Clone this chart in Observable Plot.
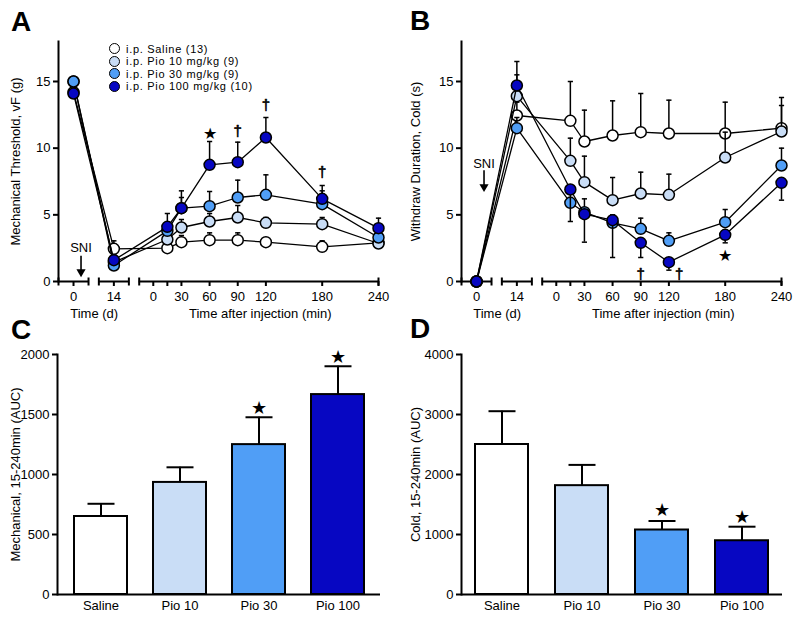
<!DOCTYPE html>
<html><head><meta charset="utf-8">
<script src="https://cdn.jsdelivr.net/npm/d3@7"></script>
<script src="https://cdn.jsdelivr.net/npm/@observablehq/plot@0.6"></script>
<style>
body{margin:0;background:#fff;font-family:"Liberation Sans",Arial,sans-serif;color:#000;}
#wrap{position:relative;width:800px;height:618px;overflow:hidden;background:#fff;}
.panel{position:absolute;}
.letter{position:absolute;font-weight:bold;font-size:28px;line-height:28px;}
.legend{position:absolute;left:109px;top:42.5px;font-size:11px;letter-spacing:0.7px;}
.legend .row{height:12.5px;line-height:12.5px;display:flex;align-items:center;white-space:nowrap;}
.legend .sw{display:inline-block;box-sizing:border-box;width:11px;height:11px;border:1.6px solid #000;border-radius:50%;margin-right:6px;}
</style></head>
<body>
<div id="wrap">
  <div class="panel" id="pA" style="left:0;top:0"></div>
  <div class="panel" id="pB" style="left:400px;top:0"></div>
  <div class="panel" id="pC" style="left:0;top:310px"></div>
  <div class="panel" id="pD" style="left:400px;top:310px"></div>
  <div class="letter" style="left:11px;top:8px">A</div>
  <div class="letter" style="left:410px;top:7px">B</div>
  <div class="letter" style="left:11px;top:316px">C</div>
  <div class="letter" style="left:410px;top:315px">D</div>
  <div class="legend" id="legend"></div>
</div>
<script>
// ---------- data ----------
const seriesNames = ["i.p. Saline (13)", "i.p. Pio 10 mg/kg (9)", "i.p. Pio 30 mg/kg (9)", "i.p. Pio 100 mg/kg (10)"];
const groups = ["Saline", "Pio 10", "Pio 30", "Pio 100"];
const colors = ["#ffffff", "#c9ddf6", "#509ef6", "#0707c2"];

// time points: days 0 and 14, then minutes after injection
const timeUnits  = ["d", "d", "m", "m", "m", "m", "m", "m", "m"];
const timeValues = [0, 14, 15, 30, 60, 90, 120, 180, 240];

// x tick labels of the broken axis
const tickUnits  = ["d", "d", "m", "m", "m", "m", "m", "m", "m", "m"];
const tickValues = [0, 14, 0, 15, 30, 60, 90, 120, 180, 240];
const tickLabels = ["0", "14", "0", "", "30", "60", "90", "120", "180", "240"];

// Panel A: mechanical threshold (g), mean and SEM
const mechSaline = [14.2, 2.45, 2.5, 2.95, 3.1, 3.1, 2.95, 2.6, 2.9];
const mechPio10  = [15.0, 1.45, 3.15, 4.05, 4.5, 4.8, 4.4, 4.3, 2.85];
const mechPio30  = [15.0, 1.2, 3.8, 5.5, 5.65, 6.3, 6.5, 5.8, 3.3];
const mechPio100 = [14.1, 1.6, 4.1, 5.5, 8.75, 8.95, 10.8, 6.2, 4.0];
const mechSemSaline = [0.3, 0.6, 0.2, 0.5, 0.55, 0.55, 0.3, 0.45, 0.2];
const mechSemPio10  = [0.2, 0.3, 0.5, 0.6, 0.6, 0.9, 0.4, 0.5, 0.3];
const mechSemPio30  = [0.2, 0.3, 0.6, 0.8, 1.1, 1.3, 1.5, 1.0, 0.4];
const mechSemPio100 = [0.3, 0.4, 1.0, 1.3, 1.75, 1.5, 1.5, 1.0, 0.75];

// Panel B: cold withdraw duration (s); SEM sign = direction the bar is drawn
const coldSaline = [0, 12.45, 12.05, 10.5, 10.95, 11.2, 11.1, 11.1, 11.5];
const coldPio10  = [0, 13.9, 9.05, 7.45, 6.1, 6.6, 6.5, 9.3, 11.25];
const coldPio30  = [0, 11.5, 5.9, 5.2, 4.4, 3.95, 3.05, 4.45, 8.7];
const coldPio100 = [0, 14.7, 6.9, 5.05, 4.6, 2.9, 1.45, 3.5, 7.4];
const coldSemSaline = [0, 1.0, 2.95, 2.35, 2.6, 2.9, 2.5, 2.35, 2.3];
const coldSemPio10  = [0, 1.6, 1.7, 1.95, 1.7, 1.6, 1.55, 1.9, 1.95];
const coldSemPio30  = [0, 0.8, 0.4, 1.0, 0.6, 0.8, 0.6, 0.95, 1.3];
const coldSemPio100 = [0, 1.8, -2.4, -2.1, -2.8, -1.1, -0.6, -0.6, -1.3];

// significance markers
const sigMech = [
  {unit: "m", t: 60, y: 11.1, mark: "★"},
  {unit: "m", t: 90, y: 11.3, mark: "†"},
  {unit: "m", t: 120, y: 13.2, mark: "†"},
  {unit: "m", t: 180, y: 8.2, mark: "†"}
];
const sigCold = [
  {unit: "m", t: 90, y: 0.55, mark: "†"},
  {unit: "m", t: 131, y: 0.55, mark: "†"},
  {unit: "m", t: 180, y: 1.95, mark: "★"}
];

// Panels C, D: AUC 15-240 min
const aucMech    = [650, 934, 1249, 1666];
const aucMechSem = [106, 126, 228, 236];
const aucCold    = [2500, 1814, 1075, 896];
const aucColdSem = [555, 346, 150, 234];
const sigAucMech = [{group: "Pio 30", y: 1552, mark: "★"}, {group: "Pio 100", y: 1977, mark: "★"}];
const sigAucCold = [{group: "Pio 30", y: 1397, mark: "★"}, {group: "Pio 100", y: 1285, mark: "★"}];

// ---------- layout of the broken time axis (virtual minute units) ----------
const axisLayout = {
  domain: [-101, 240],
  segments: [[-101, -69], [-58, -26], [-15, 240]],
  dayAt: {0: -85, 14: -42},
  sniAt: -77,
  titles: [{u: -63, text: "Time (d)"}, {u: 114, text: "Time after injection (min)"}]
};
const pos = (unit, t) => unit === "d" ? axisLayout.dayAt[t] : t;
const tickU = tickValues.map((t, i) => pos(tickUnits[i], t));
const labelByU = new Map(tickU.map((u, i) => [u, tickLabels[i]]));

// custom symbols
const hLine = {draw(ctx, size) { const r = Math.sqrt(size / Math.PI); ctx.moveTo(-r, 0); ctx.lineTo(r, 0); }};
const vLine = {draw(ctx, size) { const r = Math.sqrt(size / Math.PI); ctx.moveTo(0, -r); ctx.lineTo(0, r); }};

const FS = 13;
const baseStyle = {fontFamily: "Liberation Sans, Arial, sans-serif", fontSize: FS + "px", background: "transparent", color: "#000", overflow: "visible"};

function linePanel({vals, errs, yLabel, marginLeft, marginRight, labelDx, sig, sni}) {
  const rows = [];
  seriesNames.forEach((s, si) => timeValues.forEach((t, ti) => rows.push({
    series: s, si, u: pos(timeUnits[ti], t), y: vals[si][ti], e: errs[si][ti]
  })));
  const stars = sig.filter(d => d.mark === "★");
  const daggers = sig.filter(d => d.mark !== "★");
  const marks = [
    Plot.ruleY(axisLayout.segments, {x1: d => d[0], x2: d => d[1], y: 0, strokeWidth: 2}),
    Plot.dot(axisLayout.segments.flat(), {x: d => d, y: 0, symbol: vLine, r: 4, stroke: "black", fill: "none", strokeWidth: 2}),
    Plot.frame({anchor: "left", strokeWidth: 2}),
    Plot.axisY({ticks: [0, 5, 10, 15], tickFormat: d3.format("d"), tickSize: 5, tickPadding: 3, strokeWidth: 2, fontSize: FS, label: null}),
    Plot.axisX({ticks: tickU, tickFormat: u => labelByU.get(u) ?? "", tickSize: 5, tickPadding: 5, strokeWidth: 2, fontSize: FS, label: null}),
    Plot.text([yLabel], {frameAnchor: "left", dx: labelDx, rotate: -90, textAnchor: "middle", text: d => d, fontSize: FS}),
    Plot.text(axisLayout.titles, {x: "u", frameAnchor: "bottom", dy: 36, text: "text", fontSize: FS})
  ];
  seriesNames.forEach((s, si) => {
    const r = rows.filter(d => d.si === si);
    marks.push(
      Plot.ruleX(r, {x: "u", y1: "y", y2: d => d.y + d.e, strokeWidth: 1.5}),
      Plot.dot(r, {x: "u", y: d => d.y + d.e, symbol: hLine, r: 2.6, stroke: "black", fill: "none", strokeWidth: 1.5}),
      Plot.line(r, {x: "u", y: "y", stroke: "black", strokeWidth: 1.3}),
      Plot.dot(r, {x: "u", y: "y", r: 5.5, fill: "series", stroke: "black", strokeWidth: 1.5})
    );
  });
  marks.push(
    Plot.text(stars, {x: d => pos(d.unit, d.t), y: "y", text: "mark", fontSize: 16, fill: "black"}),
    Plot.text(daggers, {x: d => pos(d.unit, d.t), y: "y", text: "mark", fontSize: 15, fill: "black", stroke: "black", strokeWidth: 0.6}),
    Plot.text([sni], {x: axisLayout.sniAt, y: "textY", text: () => "SNI", fontSize: FS}),
    Plot.ruleX([sni], {x: axisLayout.sniAt, y1: "fromY", y2: "toY", strokeWidth: 1.6}),
    Plot.dot([sni], {x: axisLayout.sniAt, y: "toY", symbol: "triangle", rotate: 180, r: 3.4, fill: "black", stroke: "none"})
  );
  return Plot.plot({
    width: 400, height: 330, marginTop: 41, marginBottom: 49, marginLeft, marginRight,
    style: baseStyle,
    x: {domain: axisLayout.domain},
    y: {domain: [0, 18]},
    color: {domain: seriesNames, range: colors},
    marks
  });
}

function barPanel({vals, errs, sig, yMax, yTicks, yLabel, marginLeft, marginRight, paddingOuter, labelDx}) {
  const rows = groups.map((g, i) => ({group: g, v: vals[i], e: errs[i]}));
  return Plot.plot({
    width: 400, height: 308, marginTop: 44, marginBottom: 24, marginLeft, marginRight,
    style: baseStyle,
    x: {domain: groups, paddingInner: 0.335, paddingOuter, align: 0.5},
    y: {domain: [0, yMax]},
    color: {domain: groups, range: colors},
    marks: [
      Plot.ruleX(rows, {x: "group", y1: "v", y2: d => d.v + d.e, strokeWidth: 2}),
      Plot.dot(rows, {x: "group", y: d => d.v + d.e, symbol: hLine, r: 13.5, stroke: "black", fill: "none", strokeWidth: 2}),
      Plot.barY(rows, {x: "group", y: "v", fill: "group", stroke: "black", strokeWidth: 2}),
      Plot.text(sig, {x: "group", y: "y", text: "mark", fontSize: 18, fill: "black"}),
      Plot.ruleY([0], {strokeWidth: 2}),
      Plot.frame({anchor: "left", strokeWidth: 2}),
      Plot.axisY({ticks: yTicks, tickFormat: d3.format("d"), tickSize: 5, tickPadding: 3, strokeWidth: 2, fontSize: FS, label: null}),
      Plot.axisX({tickSize: 0, tickPadding: 6, fontSize: FS, label: null}),
      Plot.text([yLabel], {frameAnchor: "left", dx: labelDx, rotate: -90, textAnchor: "middle", text: d => d, fontSize: FS})
    ]
  });
}

document.getElementById("pA").append(linePanel({
  vals: [mechSaline, mechPio10, mechPio30, mechPio100],
  errs: [mechSemSaline, mechSemPio10, mechSemPio30, mechSemPio100],
  yLabel: "Mechanical Threshold, vF (g)", marginLeft: 58, marginRight: 22, labelDx: -43,
  sig: sigMech, sni: {textY: 2.5, fromY: 1.9, toY: 0.72}
}));
document.getElementById("pB").append(linePanel({
  vals: [coldSaline, coldPio10, coldPio30, coldPio100],
  errs: [coldSemSaline, coldSemPio10, coldSemPio30, coldSemPio100],
  yLabel: "Withdraw Duration, Cold (s)", marginLeft: 61, marginRight: 19, labelDx: -46,
  sig: sigCold, sni: {textY: 8.85, fromY: 8.3, toY: 7.1}
}));
document.getElementById("pC").append(barPanel({
  vals: aucMech, errs: aucMechSem, sig: sigAucMech, yMax: 2000, yTicks: [0, 500, 1000, 1500, 2000],
  yLabel: "Mechanical, 15-240min (AUC)", marginLeft: 57, marginRight: 20, paddingOuter: 0.19, labelDx: -42
}));
document.getElementById("pD").append(barPanel({
  vals: aucCold, errs: aucColdSem, sig: sigAucCold, yMax: 4000, yTicks: [0, 1000, 2000, 3000, 4000],
  yLabel: "Cold, 15-240min (AUC)", marginLeft: 61, marginRight: 18, paddingOuter: 0.16, labelDx: -46
}));

// legend (HTML)
const legend = document.getElementById("legend");
seriesNames.forEach((s, i) => {
  const row = document.createElement("div");
  row.className = "row";
  const sw = document.createElement("span");
  sw.className = "sw";
  sw.style.background = colors[i];
  row.append(sw, document.createTextNode(s));
  legend.append(row);
});
</script>
</body></html>
